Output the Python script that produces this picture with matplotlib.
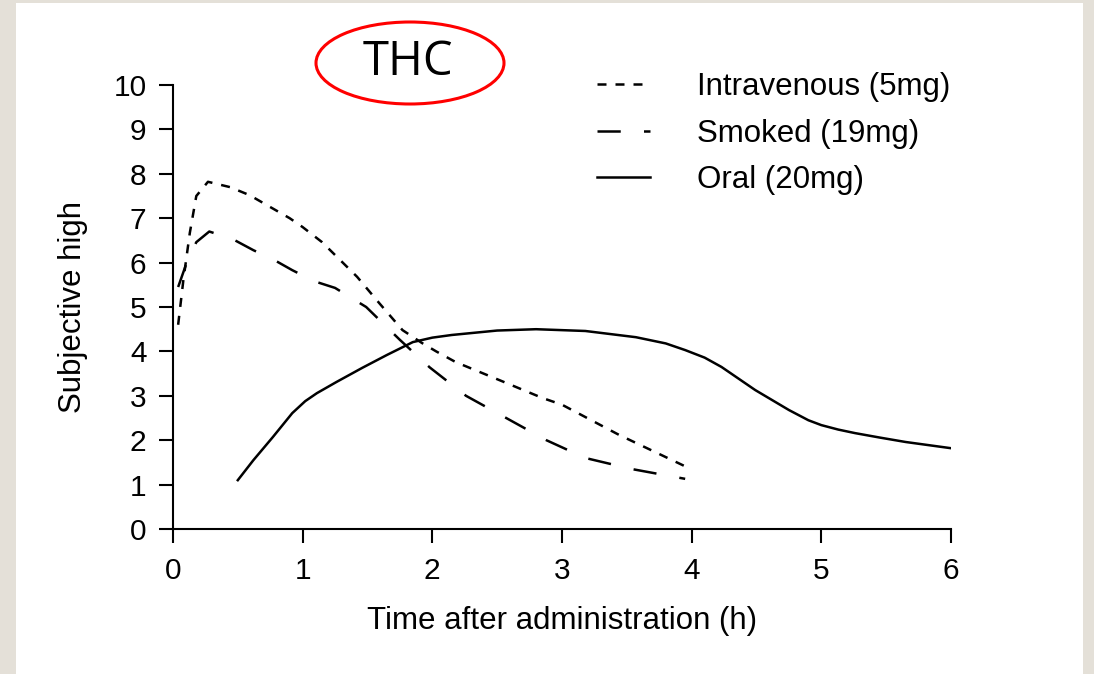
import matplotlib
matplotlib.use('Agg')
import matplotlib.pyplot as plt
from matplotlib.patches import Rectangle, Ellipse

plt.rcParams['font.family'] = ['Liberation Sans', 'DejaVu Sans']

# values
iv_t = [0.04, 0.08, 0.13, 0.18, 0.27, 0.44, 0.59, 0.9, 1.0, 1.15, 1.42, 1.59,
        1.77, 1.92, 2.03, 2.18, 2.57, 2.85, 3.0, 3.44, 3.98]
iv_y = [4.6, 5.6, 6.67, 7.5, 7.82, 7.7, 7.52, 7.0, 6.8, 6.46, 5.68, 5.09,
        4.48, 4.19, 4.0, 3.76, 3.29, 2.95, 2.8, 2.12, 1.37]

smoked_t = [0.04, 0.1, 0.18, 0.28, 0.46, 0.62, 0.78, 0.92, 1.09, 1.25, 1.49,
            1.75, 1.98, 2.26, 2.57, 2.88, 3.18, 3.54, 3.95]
smoked_y = [5.45, 5.95, 6.46, 6.7, 6.53, 6.28, 6.06, 5.83, 5.58, 5.43, 5.0,
            4.26, 3.64, 3.0, 2.5, 2.0, 1.6, 1.35, 1.13]

oral_t = [0.5, 0.62, 0.77, 0.92, 1.02, 1.11, 1.26, 1.46, 1.65, 1.85, 2.0, 2.15,
          2.5, 2.8, 3.18, 3.57, 3.8, 3.95, 4.1, 4.23, 4.49, 4.75, 4.9, 5.0,
          5.13, 5.26, 5.45, 5.65, 6.0]
oral_y = [1.10, 1.55, 2.07, 2.61, 2.88, 3.06, 3.31, 3.63, 3.92, 4.21, 4.31, 4.37,
          4.47, 4.5, 4.46, 4.32, 4.18, 4.03, 3.86, 3.65, 3.13, 2.68, 2.45, 2.34,
          2.24, 2.16, 2.06, 1.96, 1.82]

labels = ['Intravenous (5mg)', 'Smoked (19mg)', 'Oral (20mg)']

fig = plt.figure(figsize=(10.94, 6.74), dpi=100)
fig.patch.set_facecolor('#e4e0d8')
fig.add_artist(Rectangle((16 / 1094, 0), 1067 / 1094, 671 / 674,
                         transform=fig.transFigure, facecolor='white',
                         edgecolor='none', zorder=-5))

ax = fig.add_axes([0.1581, 0.2151, 0.7112, 0.6588])
ax.set_zorder(2)
ax.set_facecolor('none')

ax.plot(iv_t, iv_y, color='black', lw=1.8, dashes=(3.6, 3.6), label=labels[0])
ax.plot(smoked_t, smoked_y, color='black', lw=1.8, dashes=(9.3, 9.3), label=labels[1])
ax.plot(oral_t, oral_y, color='black', lw=1.8, label=labels[2])

ax.set_xlim(0, 6)
ax.set_ylim(0, 10)
ax.set_xticks(range(0, 7))
ax.set_yticks(range(0, 11))
for s in ['top', 'right']:
    ax.spines[s].set_visible(False)
for s in ['left', 'bottom']:
    ax.spines[s].set_linewidth(1.5)
ax.tick_params(axis='both', length=10, width=1.5, labelsize=21.5)
ax.tick_params(axis='x', pad=10)
ax.tick_params(axis='y', pad=9)

ax.set_xlabel('Time after administration (h)', fontsize=22.5, labelpad=15)
ax.set_ylabel('Subjective high', fontsize=22.5, labelpad=18)

ax.legend(loc='upper left', bbox_to_anchor=(0.545, 1.03), frameon=False,
          fontsize=22.5, handlelength=1.7, handletextpad=1.5, labelspacing=0.54,
          borderpad=0, borderaxespad=0)

fig.add_artist(Ellipse((410 / 1094, 1 - 63 / 674), 188 / 1094, 82 / 674,
                       transform=fig.transFigure, facecolor='none',
                       edgecolor='red', lw=2.2, zorder=3))
fig.text(408 / 1094, 1 - 62 / 674, 'THC', fontsize=34, family='Open Sans',
         ha='center', va='center')

fig.savefig('out.png', dpi=100)
